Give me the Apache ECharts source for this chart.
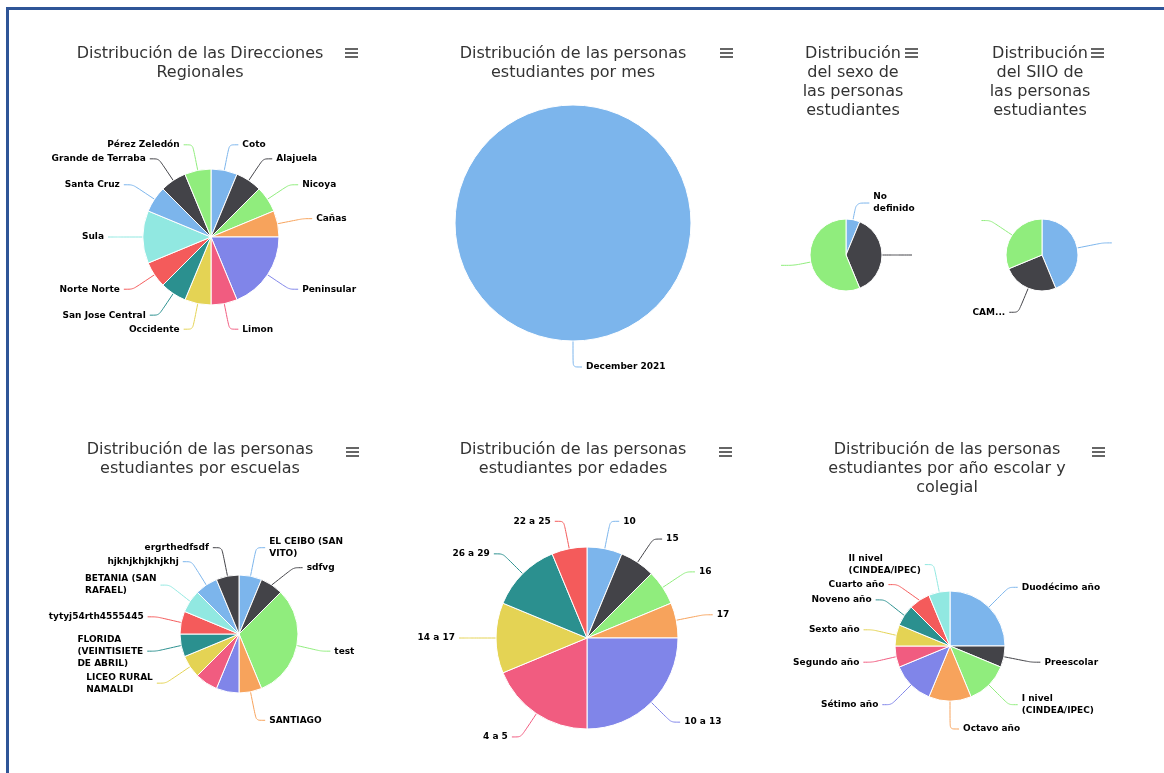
<!DOCTYPE html>
<html>
<head>
<meta charset="utf-8">
<script src="https://cdn.jsdelivr.net/npm/echarts@6/dist/echarts.min.js"></script>
<style>
html,body{margin:0;padding:0;background:#fff;overflow:hidden}
#main{width:1164px;height:773px}
</style>
</head>
<body>
<div id="main"></div>
<script>
// ---- Data ----
const palette = ['#7cb5ec', '#434348', '#90ed7d', '#f7a35c', '#8085e9', '#f15c80', '#e4d354', '#2b908f', '#f45b5b', '#91e8e1'];

const regionNames = ['Coto', 'Alajuela', 'Nicoya', 'Cañas', 'Peninsular', 'Limon', 'Occidente', 'San Jose Central', 'Norte Norte', 'Sula', 'Santa Cruz', 'Grande de Terraba', 'Pérez Zeledón'];
const regionValues = [1, 1, 1, 1, 3, 1, 1, 1, 1, 2, 1, 1, 1];

const monthNames = ['December 2021'];
const monthValues = [16];

const sexNames = ['No definido', '', ''];
const sexValues = [1, 6, 9];

const siioNames = ['', 'CAM...', ''];
const siioValues = [7, 4, 5];

const schoolNames = ['EL CEIBO (SAN VITO)', 'sdfvg', 'test', 'SANTIAGO', '', '', 'LICEO RURAL NAMALDI', 'FLORIDA (VEINTISIETE DE ABRIL)', 'tytyj54rth4555445', 'BETANIA (SAN RAFAEL)', 'hjkhjkhjkhjkhj', 'ergrthedfsdf'];
const schoolValues = [1, 1, 5, 1, 1, 1, 1, 1, 1, 1, 1, 1];

const ageNames = ['10', '15', '16', '17', '10 a 13', '4 a 5', '14 a 17', '26 a 29', '22 a 25'];
const ageValues = [1, 1, 1, 1, 4, 3, 2, 2, 1];

const gradeNames = ['Duodécimo año', 'Preescolar', 'I nivel (CINDEA/IPEC)', 'Octavo año', 'Sétimo año', 'Segundo año', 'Sexto año', 'Noveno año', 'Cuarto año', 'II nivel (CINDEA/IPEC)'];
const gradeValues = [4, 1, 2, 2, 2, 1, 1, 1, 1, 1];

const titles = [
  'Distribución de las Direcciones\nRegionales',
  'Distribución de las personas\nestudiantes por mes',
  'Distribución\ndel sexo de\nlas personas\nestudiantes',
  'Distribución\ndel SIIO de\nlas personas\nestudiantes',
  'Distribución de las personas\nestudiantes por escuelas',
  'Distribución de las personas\nestudiantes por edades',
  'Distribución de las personas\nestudiantes por año escolar y\ncolegial'
];

// ---- Layout / style ----
const LABEL_FONT = 'bold 9px "DejaVu Sans"';
const panels = [
  { title: titles[0], names: regionNames, values: regionValues, tx: 200, ty: 44, center: [211, 237], radius: 68, len: 26, len2: 9, icon: [345, 48] },
  { title: titles[1], names: monthNames, values: monthValues, tx: 573, ty: 44, center: [573, 223], radius: 118, len: 26, len2: 9, icon: [720, 48] },
  { title: titles[2], names: sexNames, values: sexValues, tx: 853, ty: 44, center: [846, 255], radius: 36, len: 17, len2: 13, wrap: 45, icon: [905, 48] },
  { title: titles[3], names: siioNames, values: siioValues, tx: 1040, ty: 44, center: [1042, 255], radius: 36, len: 26, len2: 9, icon: [1091, 48] },
  { title: titles[4], names: schoolNames, values: schoolValues, tx: 200, ty: 440, center: [239, 634], radius: 59, len: 29, len2: 9, wrap: 78, noLabel: [4, 5], icon: [346, 447] },
  { title: titles[5], names: ageNames, values: ageValues, tx: 573, ty: 440, center: [587, 638], radius: 91, len: 28, len2: 9, icon: [719, 447] },
  { title: titles[6], names: gradeNames, values: gradeValues, tx: 947, ty: 440, center: [950, 646], radius: 55, len: 28, len2: 9, wrap: 90, icon: [1092, 447] }
];

const measureCtx = document.createElement('canvas').getContext('2d');
measureCtx.font = LABEL_FONT;
function wrapWords(text, maxW) {
  if (!maxW) return text;
  const words = text.split(' ');
  const lines = [];
  let cur = '';
  words.forEach(function (w) {
    const trial = cur ? cur + ' ' + w : w;
    if (cur && measureCtx.measureText(trial).width > maxW) {
      lines.push(cur);
      cur = w;
    } else {
      cur = trial;
    }
  });
  if (cur) lines.push(cur);
  return lines.join('\n');
}

function buildData(p) {
  return p.names.map(function (n, i) {
    const item = { name: n, value: p.values[i], itemStyle: { color: palette[i % palette.length] } };
    if (p.noLabel && p.noLabel.indexOf(i) >= 0) {
      item.label = { show: false };
      item.labelLine = { show: false };
    } else if (n === '') {
      item.label = { formatter: ' ' };
    } else {
      item.label = { formatter: wrapWords(n, p.wrap) };
    }
    return item;
  });
}

const graphics = [
  { type: 'rect', shape: { x: 6, y: 7, width: 1170, height: 3 }, style: { fill: '#2f5597' }, silent: true },
  { type: 'rect', shape: { x: 6, y: 7, width: 3, height: 780 }, style: { fill: '#2f5597' }, silent: true }
];
panels.forEach(function (p) {
  [0, 4, 8].forEach(function (dy) {
    graphics.push({ type: 'rect', shape: { x: p.icon[0], y: p.icon[1] + dy, width: 13, height: 2 }, style: { fill: '#666' }, silent: true });
  });
});

const option = {
  animation: false,
  title: panels.map(function (p) {
    return {
      text: p.title, left: p.tx, top: p.ty, textAlign: 'center', padding: 0,
      textStyle: { fontFamily: 'DejaVu Sans', fontSize: 16, fontWeight: 'normal', color: '#333', lineHeight: 19 }
    };
  }),
  graphic: graphics,
  series: panels.map(function (p) {
    return {
      type: 'pie',
      center: p.center,
      radius: p.radius,
      startAngle: 90,
      clockwise: true,
      avoidLabelOverlap: true,
      data: buildData(p),
      label: {
        show: true, position: 'outside', fontFamily: 'DejaVu Sans', fontWeight: 'bold',
        fontSize: 9, color: '#000', lineHeight: 12, distanceToLabelLine: 4
      },
      labelLine: { show: true, length: p.len, length2: p.len2, smooth: 0.25, lineStyle: { width: 1 } },
      labelLayout: function (params) {
        // left-side multi-line labels: keep right edge at the connector, left-align the lines
        if (params.align === 'right' && params.labelRect && params.labelRect.height > 16) {
          return { align: 'left', dx: -params.labelRect.width };
        }
        return {};
      },
      itemStyle: { borderColor: '#fff', borderWidth: 1 },
      emphasis: { disabled: true }
    };
  })
};

const chart = echarts.init(document.getElementById('main'), null, { renderer: 'canvas' });
chart.setOption(option);
</script>
</body>
</html>
